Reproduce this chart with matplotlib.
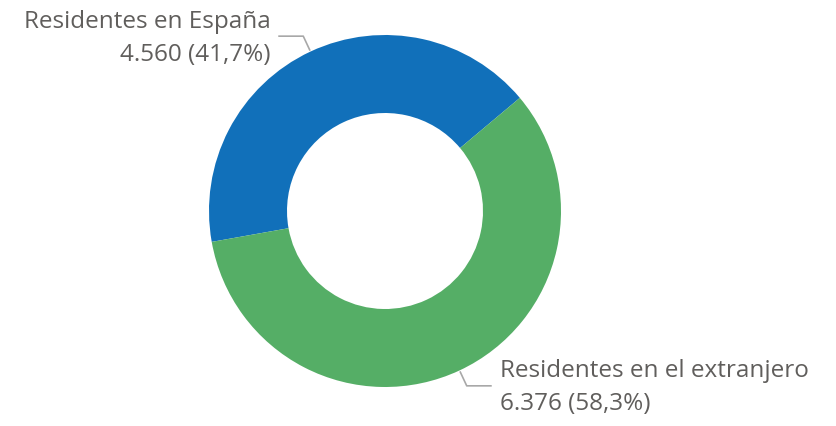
import numpy as np
import matplotlib
matplotlib.use("Agg")
import matplotlib.pyplot as plt

categories = ["Residentes en España", "Residentes en el extranjero"]
values = [4560, 6376]
value_labels = ["4.560", "6.376"]
pct_labels = ["41,7%", "58,3%"]
colors = ["#1170BA", "#55AE66"]

W, H = 836, 426
fig = plt.figure(figsize=(W / 100, H / 100), dpi=100)
ax = fig.add_axes([0, 0, 1, 1])
ax.set_xlim(0, W)
ax.set_ylim(0, H)
ax.set_aspect("equal")
ax.axis("off")

cx, cy = 385, H - 211
R = 176
width = 78
start = 40

wedges, _ = ax.pie(values, colors=colors, startangle=start, counterclock=True,
                   radius=R, center=(cx, cy), frame=True,
                   wedgeprops=dict(width=width, linewidth=0))
ax.set_xlim(0, W)
ax.set_ylim(0, H)
ax.axis("off")

text_color = "#605E5C"
line_color = "#A8A8A8"
font = ["Open Sans", "DejaVu Sans"]

for w, cat, vl, pl in zip(wedges, categories, value_labels, pct_labels):
    mid = np.deg2rad((w.theta1 + w.theta2) / 2)
    x0, y0 = cx + (R + 1) * np.cos(mid), cy + (R + 1) * np.sin(mid)
    x1, y1 = cx + (R + 17) * np.cos(mid), cy + (R + 17) * np.sin(mid)
    side = 1 if np.cos(mid) > 0 else -1
    x2 = x1 + side * 25
    ax.plot([x0, x1, x2], [y0, y1, y1], color=line_color, lw=1.2,
            solid_capstyle="butt")
    tx = x2 + side * 8
    ha = "left" if side > 0 else "right"
    ax.text(tx, y1 - 2, f"{cat}\n{vl} ({pl})", ha=ha, va="center",
            fontsize=17.5, color=text_color, family=font,
            linespacing=1.5, multialignment=ha)

fig.savefig("out.png", dpi=100)
